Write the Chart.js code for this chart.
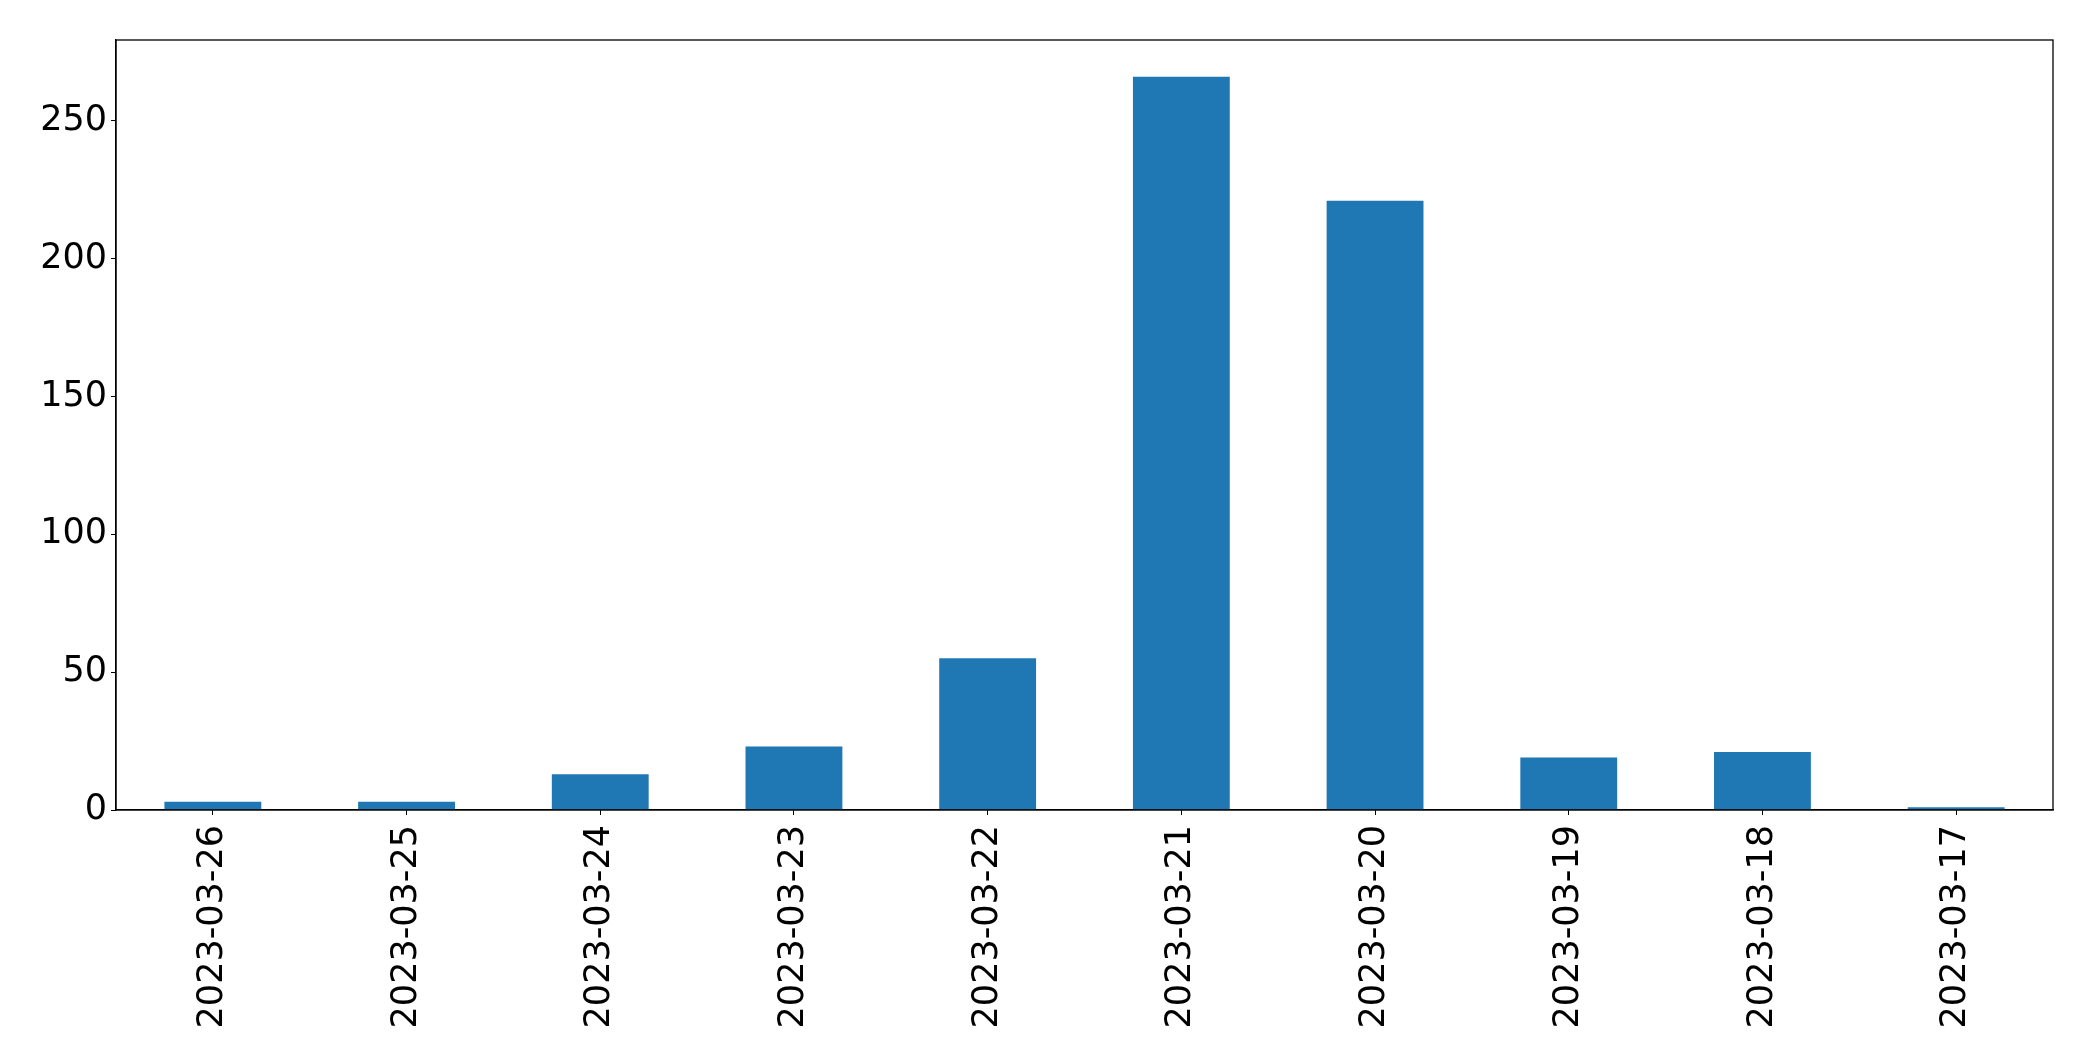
<!DOCTYPE html>
<html>
<head>
<meta charset="utf-8">
<script src="https://cdn.jsdelivr.net/npm/chart.js@4"></script>
<style>
  html, body { margin: 0; padding: 0; background: #fff; }
  #wrap { width: 2093px; height: 1061px; }
</style>
</head>
<body>
<div id="wrap"><canvas id="chart" width="2093" height="1061"></canvas></div>
<script>
const dates = ['2023-03-26', '2023-03-25', '2023-03-24', '2023-03-23', '2023-03-22',
               '2023-03-21', '2023-03-20', '2023-03-19', '2023-03-18', '2023-03-17'];
const counts = [3, 3, 13, 23, 55, 266, 221, 19, 21, 1];
const y_ticks = [0, 50, 100, 150, 200, 250];

const frame = {
    id: 'frame',
    afterDraw(chart) {
        const a = chart.chartArea;
        const ctx = chart.ctx;
        ctx.save();
        ctx.strokeStyle = '#000';
        ctx.lineWidth = 1.3;
        ctx.strokeRect(a.left, a.top, a.right - a.left, a.bottom - a.top);
        ctx.restore();
    }
};

new Chart(
    'chart',
    {
        type: 'bar',
        data: {
            labels: dates,
            datasets: [{
                data: counts,
                backgroundColor: '#1f77b4',
                barPercentage: 0.5,
                categoryPercentage: 1.0
            }]
        },
        options: {
            responsive: false,
            animation: false,
            layout: {
                padding: { top: 40, right: 40, bottom: 0, left: 0 }
            },
            scales: {
                x: {
                    afterFit: (scale) => { scale.height = 251; },
                    grid: {
                        offset: false,
                        drawOnChartArea: false,
                        drawTicks: true,
                        tickLength: 5,
                        color: '#000'
                    },
                    border: { display: true, color: '#000', width: 1.3 },
                    ticks: {
                        minRotation: 90,
                        maxRotation: 90,
                        autoSkip: false,
                        padding: 10,
                        color: '#000',
                        font: { family: 'DejaVu Sans', size: 35 }
                    }
                },
                y: {
                    min: 0,
                    max: 266 * 1.05,
                    afterFit: (scale) => { scale.width = 116; },
                    afterBuildTicks: (scale) => {
                        scale.ticks = y_ticks.map(v => ({ value: v }));
                    },
                    grid: {
                        drawOnChartArea: false,
                        drawTicks: true,
                        tickLength: 5,
                        color: '#000'
                    },
                    border: { display: true, color: '#000', width: 1.3 },
                    ticks: {
                        padding: 4,
                        color: '#000',
                        font: { family: 'DejaVu Sans', size: 35 }
                    }
                }
            },
            plugins: {
                legend: { display: false },
                tooltip: { enabled: false }
            }
        },
        plugins: [frame]
    }
);
</script>
</body>
</html>
